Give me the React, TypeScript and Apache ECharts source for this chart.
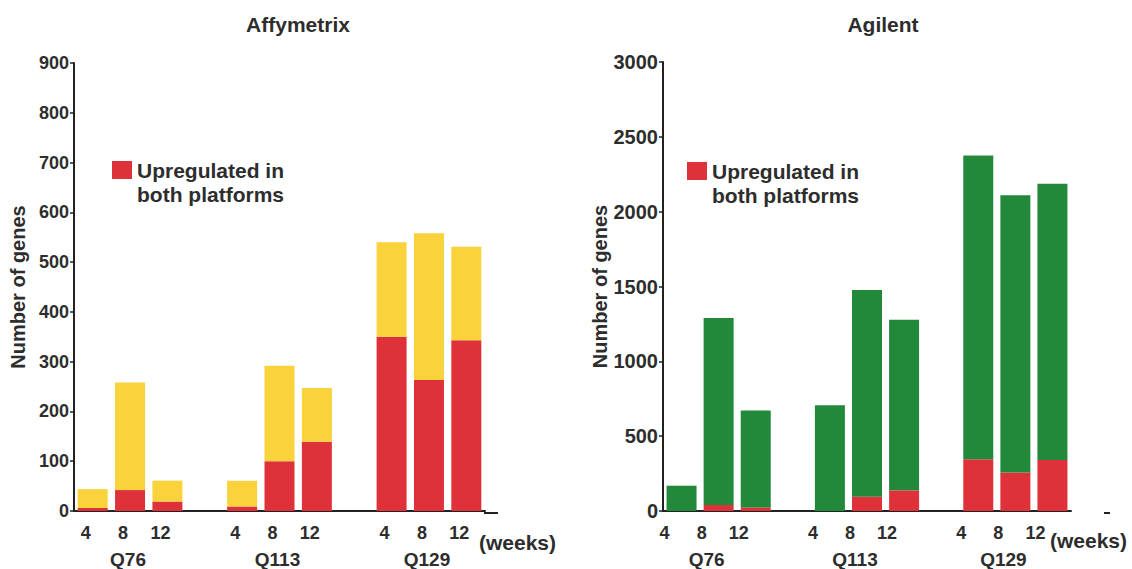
import React, { useEffect, useRef } from "react";
import * as echarts from "echarts";

// ---- data ----
const weekLabels = ["4", "8", "12"];
const groupLabels = ["Q76", "Q113", "Q129"];
const weeksUnit = "(weeks)";

// Affymetrix (number of genes), order: Q76 4/8/12, Q113 4/8/12, Q129 4/8/12
const affyShared = [6, 42, 19, 9, 100, 139, 350, 263, 343];
const affyOnly = [38, 216, 42, 52, 192, 108, 190, 295, 188];

// Agilent
const agilentShared = [0, 40, 24, 0, 95, 138, 346, 257, 340];
const agilentOnly = [169, 1249, 648, 706, 1381, 1140, 2029, 1852, 1846];

const affyTicks = { min: 0, max: 900, interval: 100 };
const agilentTicks = { min: 0, max: 3000, interval: 500 };

const legendText = "Upregulated in\nboth platforms";

// ---- build category slots (3 bars per group, one empty slot between groups) ----
const slots: string[] = [];
const weekOf: string[] = [];
const groupOf: string[] = [];
const slotIndex: number[] = [];
groupLabels.forEach((g, gi) => {
  weekLabels.forEach((w, wi) => {
    slotIndex.push(slots.length);
    slots.push(g + "-" + w);
    weekOf.push(w);
    groupOf.push(wi === 1 ? g : "");
  });
  if (gi < groupLabels.length - 1) {
    slots.push("gap" + gi);
    weekOf.push("");
    groupOf.push("");
  }
});
const spread = (vals: number[]) => {
  const out: (number | string)[] = slots.map(() => "-");
  vals.forEach((v, i) => (out[slotIndex[i]] = v));
  return out;
};

const RED = "#DF3139";
const YELLOW = "#F9D23C";
const GREEN = "#22893B";
const TXT = "#2d2d2d";
const FONT = "'Liberation Sans', Arial, sans-serif";
const AXIS = "#222";

const grids = [
  { left: 74, top: 63, width: 411, height: 450 },
  { left: 663, top: 62, width: 408, height: 451 },
];

function xAxes(gridIndex: number, labelShift: number, groupShift: number) {
  return [
    {
      gridIndex,
      type: "category",
      data: slots,
      axisLine: { lineStyle: { color: AXIS, width: 2 } },
      axisTick: { show: false },
      axisLabel: {
        interval: 0,
        margin: 13,
        fontSize: 18,
        fontWeight: "bold",
        fontFamily: FONT,
        color: TXT,
        padding: [0, labelShift * 2, 0, 0],
        formatter: (_v: string, i: number) => weekOf[i],
      },
    },
    {
      gridIndex,
      type: "category",
      position: "bottom",
      data: slots,
      axisLine: { show: false },
      axisTick: { show: false },
      axisLabel: {
        interval: 0,
        margin: 39,
        fontSize: 19,
        fontWeight: "bold",
        fontFamily: FONT,
        color: TXT,
        padding: [0, groupShift * 2, 0, 0],
        formatter: (_v: string, i: number) => groupOf[i],
      },
    },
  ];
}

function yAxis(gridIndex: number, ticks: { min: number; max: number; interval: number }, fs: number) {
  return {
    gridIndex,
    type: "value",
    ...ticks,
    axisLine: { show: true, lineStyle: { color: AXIS, width: 2 } },
    axisTick: { show: true, length: 4, lineStyle: { color: AXIS, width: 1.5 } },
    axisLabel: {
      fontSize: fs,
      fontWeight: "bold",
      fontFamily: FONT,
      color: TXT,
      margin: 5,
      formatter: (v: number) => String(v),
    },
    splitLine: { show: false },
    name: "Number of genes",
    nameLocation: "middle",
    nameGap: 46,
    nameTextStyle: { fontSize: 20, fontWeight: "bold", fontFamily: FONT, color: TXT },
  };
}

function legendGraphic(x: number, y: number) {
  return [
    { type: "rect", left: x, top: y, shape: { width: 20, height: 18 }, style: { fill: RED } },
    {
      type: "text",
      left: x + 25,
      top: y - 3,
      style: {
        text: legendText,
        font: `bold 21px ${FONT}`,
        fill: TXT,
        lineHeight: 24,
      },
    },
  ];
}

function weeksGraphic(x: number, centerY: number) {
  return {
    type: "text",
    left: x,
    top: centerY - 12,
    style: { text: weeksUnit, font: `bold 21px ${FONT}`, fill: TXT },
  };
}

const option: any = {
  animation: false,
  backgroundColor: "#ffffff",
  title: [
    {
      text: "Affymetrix",
      left: 293,
      top: 9,
      textAlign: "center",
      textStyle: { fontSize: 21, fontWeight: "bold", fontFamily: FONT, color: TXT },
    },
    {
      text: "Agilent",
      left: 878,
      top: 9,
      textAlign: "center",
      textStyle: { fontSize: 21, fontWeight: "bold", fontFamily: FONT, color: TXT },
    },
  ],
  grid: grids,
  xAxis: [...xAxes(0, 7, 2), ...xAxes(1, 17, 12)],
  yAxis: [yAxis(0, affyTicks, 18), yAxis(1, agilentTicks, 20)],
  series: [
    {
      name: "Upregulated in both platforms",
      type: "bar",
      xAxisIndex: 0,
      yAxisIndex: 0,
      stack: "affy",
      barWidth: 30,
      itemStyle: { color: RED },
      data: spread(affyShared),
    },
    {
      name: "Affymetrix only",
      type: "bar",
      xAxisIndex: 0,
      yAxisIndex: 0,
      stack: "affy",
      barWidth: 30,
      itemStyle: { color: YELLOW },
      data: spread(affyOnly),
    },
    {
      name: "Upregulated in both platforms (Agilent)",
      type: "bar",
      xAxisIndex: 2,
      yAxisIndex: 1,
      stack: "agil",
      barWidth: 30,
      itemStyle: { color: RED },
      data: spread(agilentShared),
    },
    {
      name: "Agilent only",
      type: "bar",
      xAxisIndex: 2,
      yAxisIndex: 1,
      stack: "agil",
      barWidth: 30,
      itemStyle: { color: GREEN },
      data: spread(agilentOnly),
    },
  ],
  graphic: [
    ...legendGraphic(112, 161),
    ...legendGraphic(687, 162),
    weeksGraphic(479, 544),
    weeksGraphic(1050, 542),
    // short extension of the left x-axis line past the last category
    { type: "line", shape: { x1: 484, y1: 513, x2: 498, y2: 513 }, style: { stroke: AXIS, lineWidth: 2 } },
    // small mark right of the Agilent axis
    { type: "line", shape: { x1: 1104, y1: 513, x2: 1110, y2: 513 }, style: { stroke: AXIS, lineWidth: 2 } },
  ],
};

export default function App() {
  const ref = useRef<HTMLDivElement>(null);
  useEffect(() => {
    const chart = echarts.init(ref.current!, null, { renderer: "svg" });
    chart.setOption(option);
    return () => chart.dispose();
  }, []);
  return (
    <div
      ref={ref}
      style={{ position: "absolute", left: 0, top: 0, width: 1132, height: 569, background: "#fff" }}
    />
  );
}
